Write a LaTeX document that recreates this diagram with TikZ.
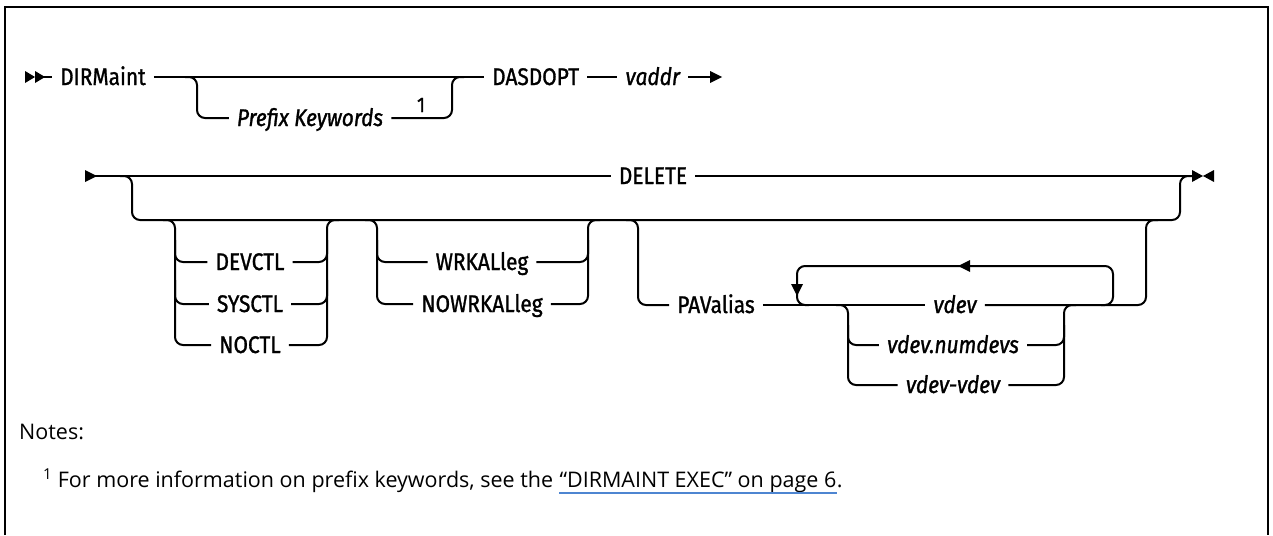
\documentclass[tikz,border=0pt]{standalone}
\usepackage{fontspec}
\setmainfont{Fira Sans}
\newfontfamily\kwfont{Fira Sans}[FakeStretch=0.87, FakeBold=1.2]
\newfontfamily\notefont{Open Sans}
\usetikzlibrary{calc}
\definecolor{linkblue}{HTML}{4D85D1}
\begin{document}
\begin{tikzpicture}[x=1pt,y=-1pt,
  ln/.style={line width=2pt},
  rr/.style={line width=2pt, rounded corners=8pt},
  kw/.style={font=\kwfont\fontsize{24}{28}\selectfont, inner xsep=8pt, inner ysep=0pt, text height=16pt, text depth=0pt},
  var/.style={kw, font=\kwfont\fontsize{24}{28}\selectfont\itshape},
  note/.style={font=\notefont\fontsize{21.5}{26}\selectfont, inner sep=0pt, anchor=base west},
]
\useasboundingbox (0,0) rectangle (1273,535);
\draw[line width=2.5pt] (5,535) -- (5,7) -- (1268,7) -- (1268,535);

% ---------- row 1 ----------
\coordinate (s1) at (25,77);
\node[kw, anchor=west] (dir) at (52,77) {DIRMaint};
\node[var] (pk) at (310,118) {Prefix Keywords};
\node[font=\kwfont\fontsize{21}{24}\selectfont, inner sep=0pt] (fn1) at (421,105) {1};
\node[kw, anchor=west] (dasd) at (484,77) {DASDOPT};
\node[var, anchor=west] (vaddr) at ($(dasd.east)+(30,0)$) {vaddr};
\coordinate (e1) at ($(vaddr.east)+(22,0)$);

\fill (s1) ++(0,-6) -- ++(10,6) -- ++(-10,6) -- cycle;
\fill ($(s1)+(10,0)$) ++(0,-6) -- ++(10,6) -- ++(-10,6) -- cycle;
\draw[ln] ($(s1)+(18,0)$) -- (dir.west);
\draw[ln] (dir.east) -- (dasd.west);
\draw[rr] (185,77) -| (197,118) -- (pk.west);
\draw[rr] (pk.east) -| (452,77) -- (464,77);
\draw[ln] (dasd.east) -- (vaddr.west);
\draw[ln] (vaddr.east) -- (e1);
\fill (e1) ++(0,-6) -- ++(12,6) -- ++(-12,6) -- cycle;

% ---------- row 2 ----------
\coordinate (s2) at (85,176);
\coordinate (e2) at (1192,176);
\node[kw] (del) at (653,176) {DELETE};
\fill (s2) ++(0,-6) -- ++(12,6) -- ++(-12,6) -- cycle;
\draw[ln] ($(s2)+(10,0)$) -- (del.west);
\draw[ln] (del.east) -- (e2);
\fill (e2) ++(0,-6) -- ++(11,6) -- ++(-11,6) -- cycle;
\fill ($(e2)+(22,0)$) ++(0,-6) -- ++(-11,6) -- ++(11,6) -- cycle;
\draw[rr] (120,176) -| (132,220) -| (1180,176) -- (1192,176);

% group A
\node[kw] (devctl) at (250,262) {DEVCTL};
\node[kw] (sysctl) at (250,304) {SYSCTL};
\node[kw] (noctl) at (250,345) {NOCTL};
\draw[rr] (163,220) -| (175,345) -- (noctl.west);
\draw[rr] (175,240) |- (devctl.west);
\draw[rr] (175,280) |- (sysctl.west);
\draw[rr] (noctl.east) -| (327,220) -- (339,220);
\draw[rr] (devctl.east) -| (327,240);
\draw[rr] (sysctl.east) -| (327,280);

% group B
\node[kw] (wrk) at (482,262) {WRKALleg};
\node[kw] (nowrk) at (482,304) {NOWRKALleg};
\draw[rr] (365,220) -| (377,304) -- (nowrk.west);
\draw[rr] (377,240) |- (wrk.west);
\draw[rr] (nowrk.east) -| (588,220) -- (600,220);
\draw[rr] (wrk.east) -| (588,240);

% group C
\node[kw] (pav) at (716,305) {PAValias};
\node[var] (vdev) at (955,305) {vdev};
\node[var] (vnum) at (953,345) {vdev.numdevs};
\node[var] (vv) at (953,385) {vdev-vdev};
\draw[rr] (626,220) -| (638,305) -- (pav.west);
\draw[ln] (pav.east) -- (vdev.west);
\draw[rr] (836,305) -| (848,385) -- (vv.west);
\draw[rr] (848,325) |- (vnum.west);
\draw[rr] (vv.east) -| (1064,305) -- (1076,305);
\draw[rr] (vnum.east) -| (1064,325);
\draw[rr] (vdev.east) -| (1146,220) -- (1158,220);
% repeat loop
\draw[rr] (1101,305) -| (1113,266) -| (797,305) -- (809,305);
\fill (958,266) -- ++(12,-6) -- ++(0,12) -- cycle;
\fill (797,296) -- ++(-6,-12) -- ++(12,0) -- cycle;

% ---------- notes ----------
\node[note] (notes) at (19,439) {Notes:};
\node[note] (fa) at (43,487) {\textsuperscript{1} For more information on prefix keywords, see the};
\node[note] (fb) at ($(fa.base east)+(6,0)$) {“DIRMAINT EXEC” on page 6};
\node[note] (fc) at (fb.base east) {.};
\draw[linkblue, line width=1.2pt] ($(fb.base west)+(0,6)$) -- ($(fb.base east)+(0,6)$);
\end{tikzpicture}
\end{document}
